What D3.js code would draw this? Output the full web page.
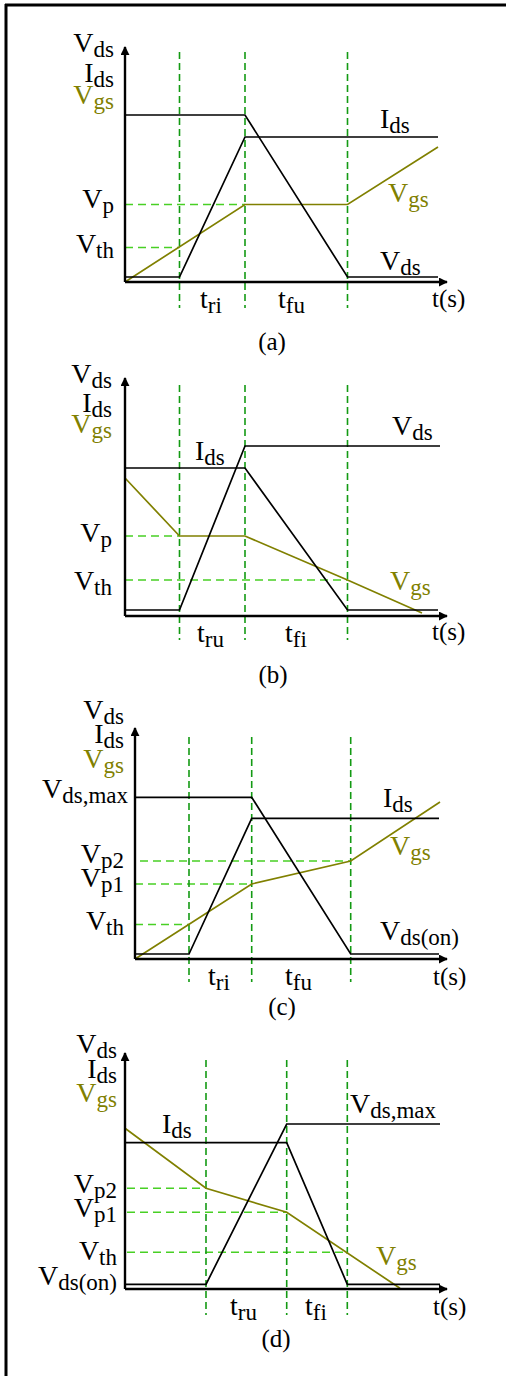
<!DOCTYPE html>
<html>
<head>
<meta charset="utf-8">
<script src="https://cdn.jsdelivr.net/npm/d3@7"></script>
<style>
  html, body { margin: 0; padding: 0; background: #fff; }
  svg { display: block; }
  text { font-family: "Liberation Serif", "Times New Roman", Times, serif; }
</style>
</head>
<body>
<svg id="fig" width="506" height="1376"></svg>
<script>
// ---- Switching waveforms (normalised time / level units) ----
// Panel (a): turn-on, single plateau
const aEdges = [5.45, 12.0, 22.25];
const aVds = [[0, 16.7], [12.0, 16.7], [22.25, 0.5], [31.3, 0.5]];
const aIds = [[0, 0.5], [5.45, 0.5], [12.0, 14.5], [31.3, 14.5]];
const aVgs = [[0, 0], [12.0, 7.75], [22.25, 7.75], [31.3, 13.5]];
const aLevels = [[7.75, 12.0], [3.45, 5.45]];          // [level, t end] : Vp, Vth

// Panel (b): turn-off, single plateau
const bEdges = [5.45, 12.0, 22.25];
const bVds = [[0, 0.6], [5.45, 0.6], [12.0, 17.0], [31.5, 17.0]];
const bIds = [[0, 14.8], [12.0, 14.8], [22.25, 0.6], [31.3, 0.6]];
const bVgs = [[0, 13.8], [5.45, 8.0], [12.0, 8.0], [22.25, 3.6], [29.7, 0.3]];
const bLevels = [[8.0, 5.45], [3.6, 22.25]];           // Vp, Vth

// Panel (c): turn-on, two plateaus
const cEdges = [5.4, 11.67, 21.57];
const cVds = [[0, 16.17], [11.67, 16.17], [21.57, 0.5], [30.4, 0.5]];
const cIds = [[0, 0.5], [5.4, 0.5], [11.67, 14.07], [30.4, 14.07]];
const cVgs = [[0, 0], [11.67, 7.5], [21.57, 9.8], [30.5, 15.7]];
const cLevels = [[9.8, 21.57, 0.5], [7.5, 11.67], [3.45, 5.4]];   // Vp2, Vp1, Vth

// Panel (d): turn-off, two plateaus
const dEdges = [8.1, 16.17, 22.23];
const dVds = [[0, 0.47], [8.1, 0.47], [16.17, 16.5], [31.5, 16.5]];
const dIds = [[0, 14.63], [16.17, 14.63], [22.23, 0.47], [31.5, 0.47]];
const dVgs = [[0, 16.07], [8.1, 10.07], [16.17, 7.67], [27.5, 0.07]];
const dLevels = [[10.07, 8.1, 0.2], [7.67, 16.17, 0.2], [3.67, 22.23, 0.2]]; // Vp2, Vp1, Vth

// ---- Text labels: [main, subscript] ----
const axisTitles = [["V", "ds"], ["I", "ds"], ["V", "gs"]];
const aLevelLabels = [["V", "p"], ["V", "th"]];
const bLevelLabels = [["V", "p"], ["V", "th"]];
const cLevelLabels = [["V", "ds,max"], ["V", "p2"], ["V", "p1"], ["V", "th"]];
const dLevelLabels = [["V", "p2"], ["V", "p1"], ["V", "th"], ["V", "ds(on)"]];
const aIntervals = [["t", "ri"], ["t", "fu"]];
const bIntervals = [["t", "ru"], ["t", "fi"]];
const cIntervals = [["t", "ri"], ["t", "fu"]];
const dIntervals = [["t", "ru"], ["t", "fi"]];
const timeLabel = "t(s)";
const captions = ["(a)", "(b)", "(c)", "(d)"];

// ---- Styling ----
const BLACK = "#000";
const OLIVE = "#808000";
const VGREEN = "#139a13";
const HGREEN = "#48d024";
const FS = 28, SUB = 23, FS_SMALL = 25;

const svg = d3.select("#fig");

// frame
svg.append("line").attr("x1", 5).attr("y1", 5).attr("x2", 506).attr("y2", 5)
  .attr("stroke", BLACK).attr("stroke-width", 3);
svg.append("line").attr("x1", 6).attr("y1", 4).attr("x2", 6).attr("y2", 1376)
  .attr("stroke", BLACK).attr("stroke-width", 3);

// arrowhead
svg.append("defs").append("marker")
  .attr("id", "arrow").attr("viewBox", "0 0 10 10")
  .attr("refX", 9).attr("refY", 5)
  .attr("markerWidth", 9).attr("markerHeight", 9)
  .attr("markerUnits", "userSpaceOnUse")
  .attr("orient", "auto")
  .append("path").attr("d", "M0,0 L10,5 L0,10 Z").attr("fill", BLACK);

function label(g, x, y, parts, color, anchor) {
  const t = g.append("text").attr("x", x).attr("y", y)
    .attr("fill", color).attr("text-anchor", anchor || "start")
    .attr("font-size", FS);
  t.append("tspan").text(parts[0]);
  if (parts[1]) {
    t.append("tspan").attr("font-size", SUB).attr("dy", 5).text(parts[1]);
  }
  return t;
}

// panel layout (pixel placement only)
const panels = [
  {
    ox: 125, oy: 282, tMax: 32.2, vMax: 23.5,
    edges: aEdges, vds: aVds, ids: aIds, vgs: aVgs, levels: aLevels,
    edgeTop: 52, edgeBot: 308,
    titleX: -11, titleY: [-230, -200, -178],
    levelLabels: aLevelLabels, levelLabelX: -11, levelLabelY: [-74, -29],
    curveLabels: [
      { p: ["I", "ds"], c: BLACK, dx: 255, dy: -154 },
      { p: ["V", "gs"], c: OLIVE, dx: 263, dy: -80 },
      { p: ["V", "ds"], c: BLACK, dx: 255, dy: -12 }
    ],
    intervals: aIntervals, intX: [75, 153], intY: 26, tsX: 307, tsY: 25,
    caption: captions[0], capX: 272, capY: 350
  },
  {
    ox: 125, oy: 616, tMax: 32.2, vMax: 23.8,
    edges: bEdges, vds: bVds, ids: bIds, vgs: bVgs, levels: bLevels,
    edgeTop: 385, edgeBot: 640,
    titleX: -13, titleY: [-233, -204, -183],
    levelLabels: bLevelLabels, levelLabelX: -13, levelLabelY: [-74, -26],
    curveLabels: [
      { p: ["I", "ds"], c: BLACK, dx: 70, dy: -156 },
      { p: ["V", "ds"], c: BLACK, dx: 267, dy: -181 },
      { p: ["V", "gs"], c: OLIVE, dx: 265, dy: -26 }
    ],
    intervals: bIntervals, intX: [72, 160], intY: 26, tsX: 307, tsY: 24,
    caption: captions[1], capX: 273, capY: 683
  },
  {
    ox: 135, oy: 959, tMax: 31.2, vMax: 23.1,
    edges: cEdges, vds: cVds, ids: cIds, vgs: cVgs, levels: cLevels,
    edgeTop: 737, edgeBot: 982,
    titleX: -11, titleY: [-240, -216, -191],
    levelLabels: cLevelLabels, levelLabelX: [-7, -11, -11, -11], levelLabelY: [-161, -96, -72, -29],
    curveLabels: [
      { p: ["I", "ds"], c: BLACK, dx: 248, dy: -152 },
      { p: ["V", "gs"], c: OLIVE, dx: 255, dy: -104 },
      { p: ["V", "ds(on)"], c: BLACK, dx: 245, dy: -19 }
    ],
    intervals: cIntervals, intX: [73, 150], intY: 26, tsX: 298, tsY: 26,
    caption: captions[2], capX: 282, capY: 1015
  },
  {
    ox: 125, oy: 1289, tMax: 32.2, vMax: 23.6,
    edges: dEdges, vds: dVds, ids: dIds, vgs: dVgs, levels: dLevels,
    edgeTop: 1060, edgeBot: 1315,
    titleX: -8, titleY: [-236, -211, -187],
    levelLabels: dLevelLabels, levelLabelX: -8, levelLabelY: [-96, -72, -29, -4],
    curveLabels: [
      { p: ["I", "ds"], c: BLACK, dx: 37, dy: -156 },
      { p: ["V", "ds,max"], c: BLACK, dx: 225, dy: -176 },
      { p: ["V", "gs"], c: OLIVE, dx: 251, dy: -24 }
    ],
    intervals: dIntervals, intX: [105, 180], intY: 26, tsX: 308, tsY: 26,
    caption: captions[3], capX: 276, capY: 1347
  }
];

panels.forEach(P => {
  const g = svg.append("g");
  const x = d3.scaleLinear().domain([0, 10]).range([P.ox, P.ox + 100]);
  const y = d3.scaleLinear().domain([0, 10]).range([P.oy, P.oy - 100]);
  const line = d3.line().x(d => x(d[0])).y(d => y(d[1]));

  // horizontal reference levels (Vp, Vth ...)
  P.levels.forEach(L => {
    g.append("line")
      .attr("x1", x(L[2] || 0)).attr("x2", x(L[1]))
      .attr("y1", y(L[0])).attr("y2", y(L[0]))
      .attr("stroke", HGREEN).attr("stroke-width", 1.6)
      .attr("stroke-dasharray", "8,5");
  });

  // switching-interval boundaries
  P.edges.forEach(t => {
    g.append("line")
      .attr("x1", x(t)).attr("x2", x(t))
      .attr("y1", P.edgeTop).attr("y2", P.edgeBot)
      .attr("stroke", VGREEN).attr("stroke-width", 1.6)
      .attr("stroke-dasharray", "7,4");
  });

  // waveforms
  g.append("path").datum(P.vgs).attr("d", line)
    .attr("fill", "none").attr("stroke", OLIVE).attr("stroke-width", 1.7);
  g.append("path").datum(P.ids).attr("d", line)
    .attr("fill", "none").attr("stroke", BLACK).attr("stroke-width", 1.7);
  g.append("path").datum(P.vds).attr("d", line)
    .attr("fill", "none").attr("stroke", BLACK).attr("stroke-width", 1.7);

  // axes with arrowheads
  g.append("path").datum([[0, 0], [0, P.vMax]]).attr("d", line)
    .attr("stroke", BLACK).attr("stroke-width", 2.4).attr("marker-end", "url(#arrow)");
  g.append("path").datum([[0, 0], [P.tMax, 0]]).attr("d", line)
    .attr("stroke", BLACK).attr("stroke-width", 2.4).attr("marker-end", "url(#arrow)");

  // axis title stack
  axisTitles.forEach((p, i) => {
    label(g, P.ox + P.titleX, P.oy + P.titleY[i], p, i === 2 ? OLIVE : BLACK, "end");
  });

  // level labels
  P.levelLabels.forEach((p, i) => {
    const lx = Array.isArray(P.levelLabelX) ? P.levelLabelX[i] : P.levelLabelX;
    label(g, P.ox + lx, P.oy + P.levelLabelY[i], p, BLACK, "end");
  });

  // curve labels
  P.curveLabels.forEach(c => label(g, P.ox + c.dx, P.oy + c.dy, c.p, c.c, "start"));

  // interval labels and time axis label
  P.intervals.forEach((p, i) => label(g, P.ox + P.intX[i], P.oy + P.intY, p, BLACK, "start"));
  g.append("text").attr("x", P.ox + P.tsX).attr("y", P.oy + P.tsY)
    .attr("font-size", FS_SMALL).attr("fill", BLACK).text(timeLabel);

  // caption
  g.append("text").attr("x", P.capX).attr("y", P.capY)
    .attr("font-size", FS_SMALL).attr("text-anchor", "middle").attr("fill", BLACK).text(P.caption);
});
</script>
</body>
</html>
